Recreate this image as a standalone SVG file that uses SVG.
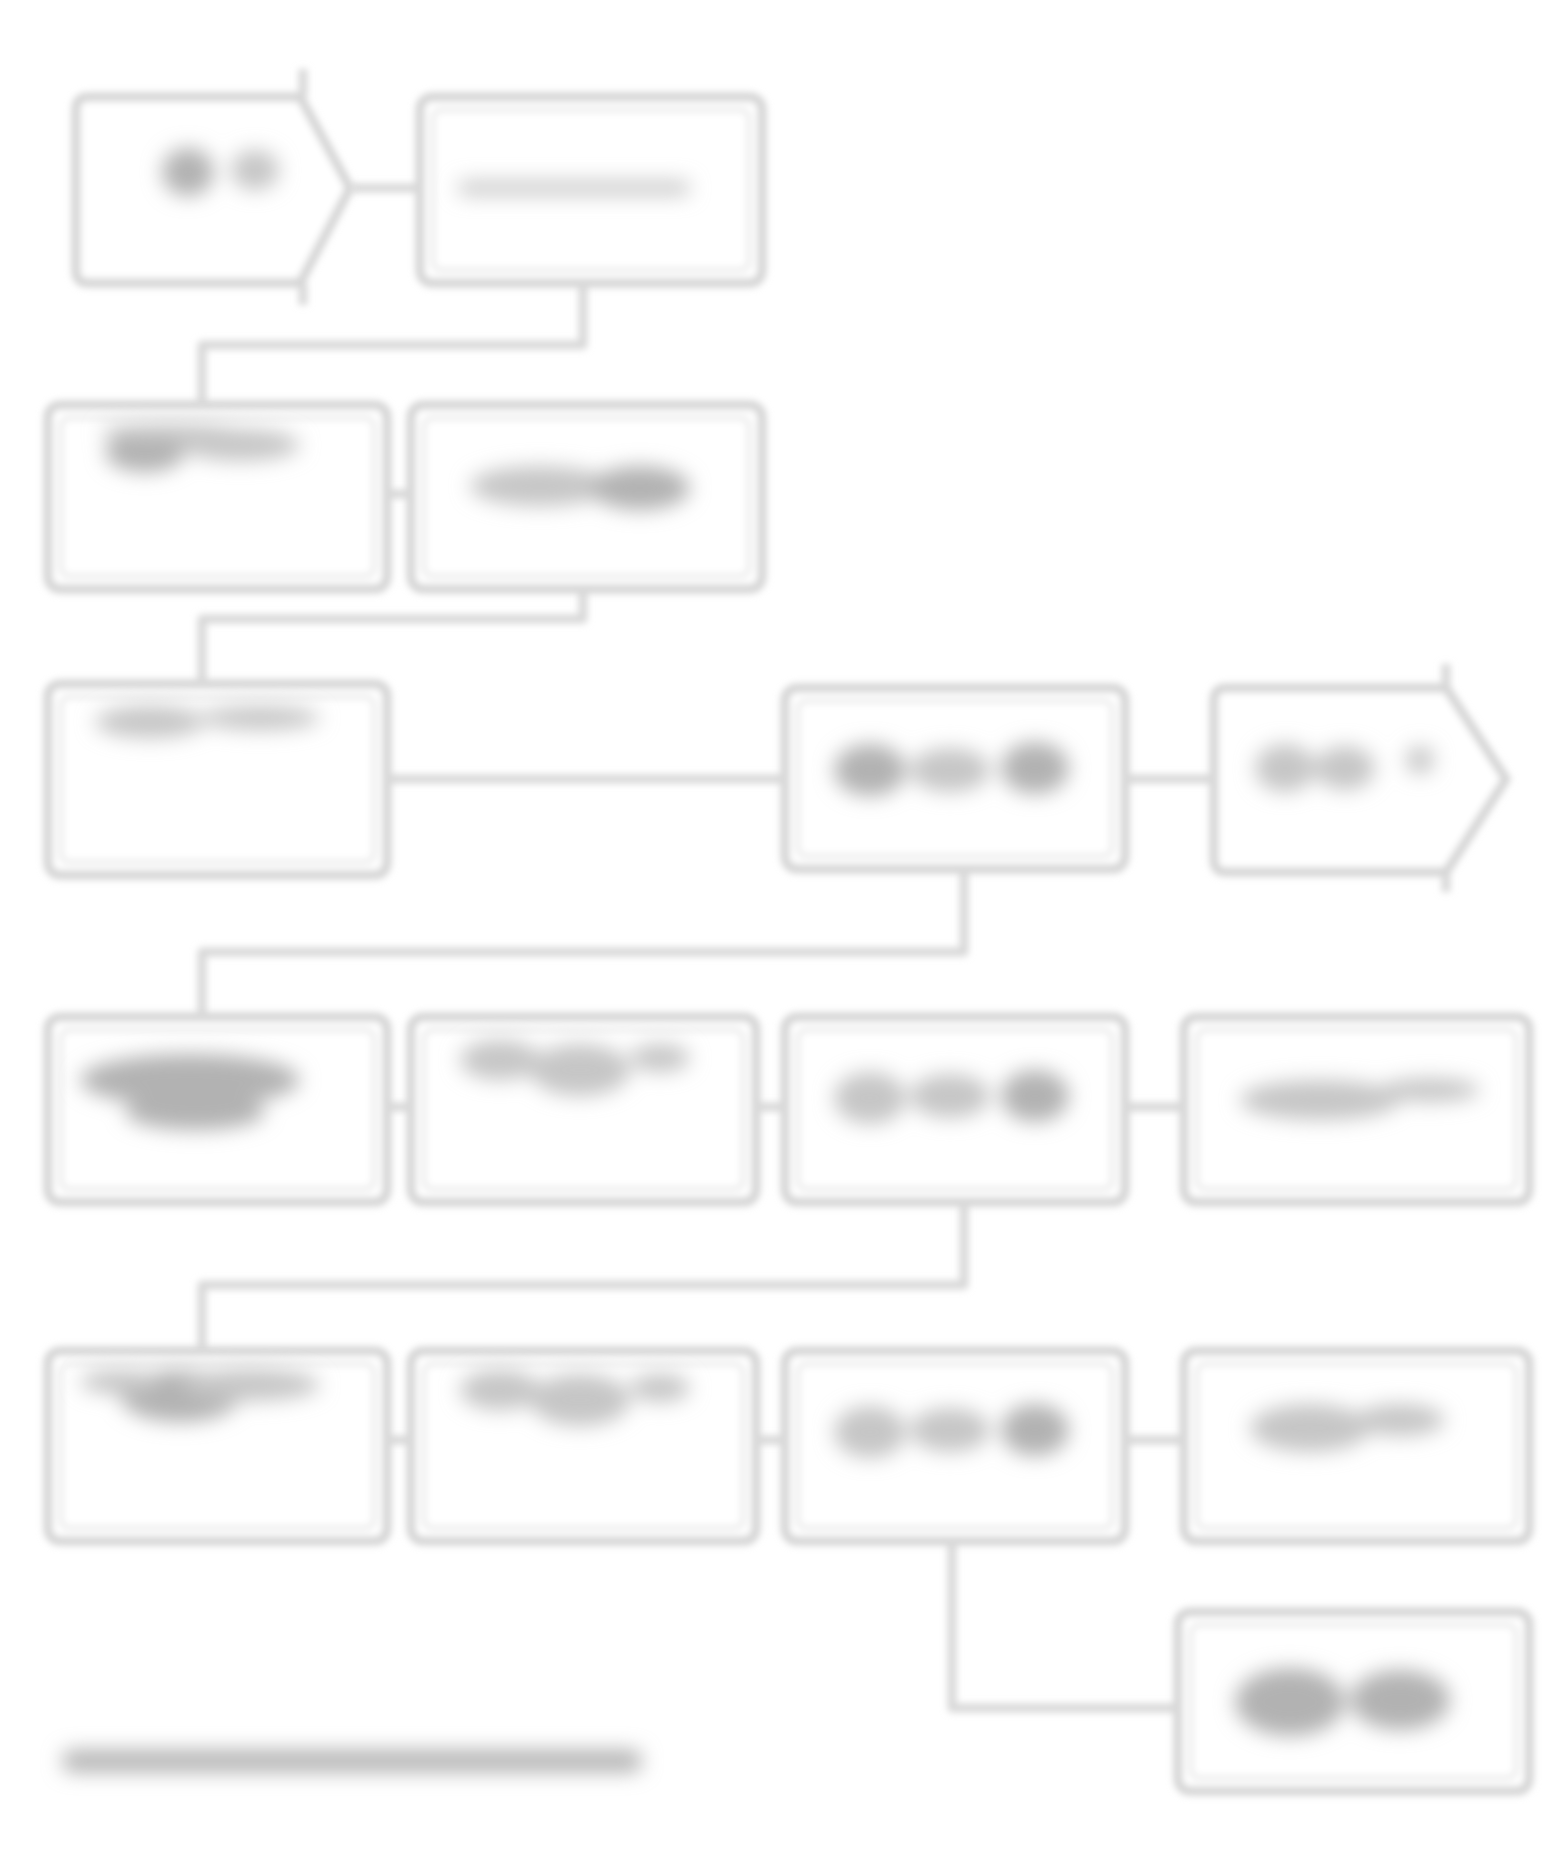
<svg xmlns="http://www.w3.org/2000/svg" width="1566" height="1869" viewBox="0 0 1566 1869">
<defs>
<filter id="soft" x="-5%" y="-5%" width="110%" height="110%"><feGaussianBlur stdDeviation="3.5"/></filter>
<filter id="smudge" x="-20%" y="-60%" width="140%" height="220%"><feGaussianBlur stdDeviation="10"/></filter>
</defs>
<style>
.box{fill:#ffffff;stroke:#d4d4d4;stroke-width:9}
.inner{fill:none;stroke:#e6e6e6;stroke-width:4}
.con{fill:none;stroke:#d8d8d8;stroke-width:9;stroke-linejoin:round}
.sm{fill:#c6c6c6}
.smd{fill:#b2b2b2}
</style>
<rect width="1566" height="1869" fill="#ffffff"/>
<g id="connectors" filter="url(#soft)">
<path class="con" d="M352,188 L420,188"/>
<path class="con" d="M583,283 L583,345 L202,345 L202,405"/>
<path class="con" d="M387,494 L411,494"/>
<path class="con" d="M583,589 L583,619 L202,619 L202,684"/>
<path class="con" d="M387,779 L785,779"/>
<path class="con" d="M1125,779 L1214,779"/>
<path class="con" d="M964,869 L964,952 L202,952 L202,1017"/>
<path class="con" d="M387,1107 L411,1107"/>
<path class="con" d="M756,1107 L785,1107"/>
<path class="con" d="M1125,1107 L1184,1107"/>
<path class="con" d="M964,1202 L964,1285 L202,1285 L202,1351"/>
<path class="con" d="M387,1440 L411,1440"/>
<path class="con" d="M756,1440 L785,1440"/>
<path class="con" d="M1125,1440 L1184,1440"/>
<path class="con" d="M952,1541 L952,1708 L1178,1708"/>
</g>
<g id="nodes" filter="url(#soft)">
<g id="n1"><path class="box" d="M88,97 L300,97 L350,188 L300,283 L88,283 Q76,283 76,271 L76,109 Q76,97 88,97 Z"/><path class="con" d="M303,69 L303,97 M303,283 L303,305"/></g>
<g id="n2"><rect class="box" x="420" y="97" width="342" height="186" rx="12"/><rect class="inner" x="433" y="110" width="316" height="160" rx="8"/></g>
<g id="n3"><rect class="box" x="48" y="405" width="339" height="184" rx="12"/><rect class="inner" x="61" y="418" width="313" height="158" rx="8"/></g>
<g id="n4"><rect class="box" x="411" y="405" width="351" height="184" rx="12"/><rect class="inner" x="424" y="418" width="325" height="158" rx="8"/></g>
<g id="n5"><rect class="box" x="48" y="684" width="339" height="191" rx="12"/><rect class="inner" x="61" y="697" width="313" height="165" rx="8"/></g>
<g id="n6"><rect class="box" x="785" y="688" width="340" height="181" rx="12"/><rect class="inner" x="798" y="701" width="314" height="155" rx="8"/></g>
<g id="n7"><path class="box" d="M1226,688 L1446,688 L1506,779 L1446,872 L1226,872 Q1214,872 1214,860 L1214,700 Q1214,688 1226,688 Z"/><path class="con" d="M1446,664 L1446,688 M1446,872 L1446,892"/></g>
<g id="n8"><rect class="box" x="48" y="1017" width="339" height="185" rx="12"/><rect class="inner" x="61" y="1030" width="313" height="159" rx="8"/></g>
<g id="n9"><rect class="box" x="411" y="1017" width="345" height="185" rx="12"/><rect class="inner" x="424" y="1030" width="319" height="159" rx="8"/></g>
<g id="n10"><rect class="box" x="785" y="1017" width="340" height="185" rx="12"/><rect class="inner" x="798" y="1030" width="314" height="159" rx="8"/></g>
<g id="n11"><rect class="box" x="1184" y="1017" width="345" height="185" rx="12"/><rect class="inner" x="1197" y="1030" width="319" height="159" rx="8"/></g>
<g id="n12"><rect class="box" x="48" y="1351" width="339" height="190" rx="12"/><rect class="inner" x="61" y="1364" width="313" height="164" rx="8"/></g>
<g id="n13"><rect class="box" x="411" y="1351" width="345" height="190" rx="12"/><rect class="inner" x="424" y="1364" width="319" height="164" rx="8"/></g>
<g id="n14"><rect class="box" x="785" y="1351" width="340" height="190" rx="12"/><rect class="inner" x="798" y="1364" width="314" height="164" rx="8"/></g>
<g id="n15"><rect class="box" x="1184" y="1351" width="345" height="190" rx="12"/><rect class="inner" x="1197" y="1364" width="319" height="164" rx="8"/></g>
<g id="n16"><rect class="box" x="1178" y="1612" width="351" height="179" rx="12"/><rect class="inner" x="1191" y="1625" width="325" height="153" rx="8"/></g>
</g>
<g id="illegible" filter="url(#smudge)">
<ellipse class="smd" cx="188" cy="172" rx="26" ry="24"/><ellipse class="sm" cx="255" cy="170" rx="24" ry="20"/>
<rect class="sm" x="458" y="181" width="232" height="14" rx="7"/>
<ellipse class="smd" cx="145" cy="452" rx="40" ry="20"/><ellipse class="sm" cx="240" cy="445" rx="60" ry="16"/><ellipse class="sm" cx="170" cy="432" rx="70" ry="8"/>
<ellipse class="sm" cx="540" cy="486" rx="70" ry="20"/><ellipse class="smd" cx="640" cy="488" rx="50" ry="22"/>
<ellipse class="sm" cx="150" cy="722" rx="55" ry="16"/><ellipse class="sm" cx="260" cy="718" rx="60" ry="12"/>
<ellipse class="smd" cx="870" cy="770" rx="36" ry="26"/><ellipse class="sm" cx="950" cy="770" rx="40" ry="22"/><ellipse class="smd" cx="1035" cy="768" rx="34" ry="26"/>
<ellipse class="sm" cx="1285" cy="768" rx="30" ry="24"/><ellipse class="sm" cx="1345" cy="768" rx="30" ry="22"/><ellipse class="sm" cx="1420" cy="760" rx="14" ry="14"/>
<ellipse class="smd" cx="190" cy="1080" rx="110" ry="26"/><ellipse class="smd" cx="195" cy="1112" rx="70" ry="18"/>
<ellipse class="sm" cx="500" cy="1060" rx="40" ry="20"/><ellipse class="sm" cx="580" cy="1070" rx="50" ry="26"/><ellipse class="sm" cx="660" cy="1058" rx="30" ry="14"/>
<ellipse class="sm" cx="870" cy="1098" rx="36" ry="26"/><ellipse class="sm" cx="950" cy="1096" rx="40" ry="22"/><ellipse class="smd" cx="1035" cy="1096" rx="34" ry="26"/>
<ellipse class="sm" cx="1320" cy="1100" rx="80" ry="20"/><ellipse class="sm" cx="1430" cy="1090" rx="50" ry="12"/>
<ellipse class="smd" cx="180" cy="1396" rx="60" ry="26"/><ellipse class="sm" cx="250" cy="1385" rx="70" ry="16"/><ellipse class="sm" cx="120" cy="1382" rx="40" ry="12"/>
<ellipse class="sm" cx="500" cy="1390" rx="40" ry="20"/><ellipse class="sm" cx="580" cy="1400" rx="50" ry="26"/><ellipse class="sm" cx="660" cy="1388" rx="30" ry="14"/>
<ellipse class="sm" cx="870" cy="1432" rx="36" ry="26"/><ellipse class="sm" cx="950" cy="1430" rx="40" ry="22"/><ellipse class="smd" cx="1035" cy="1430" rx="34" ry="26"/>
<ellipse class="sm" cx="1310" cy="1428" rx="60" ry="24"/><ellipse class="sm" cx="1400" cy="1420" rx="45" ry="16"/>
<ellipse class="smd" cx="1290" cy="1702" rx="55" ry="34"/><ellipse class="smd" cx="1400" cy="1700" rx="50" ry="30"/>
<rect class="smd" x="62" y="1750" width="580" height="22" rx="10"/>
</g>
</svg>
